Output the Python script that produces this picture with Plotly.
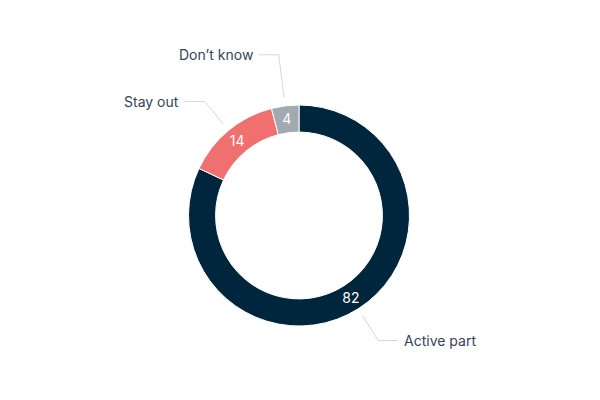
import math
import plotly.graph_objects as go

labels = ["Active part", "Stay out", "Don’t know"]
values = [82, 14, 4]
colors = ["#00263e", "#f07070", "#a0aab0"]

W, H = 600, 400
ML, MR, MT, MB = 0, 2, 105, 74
PW, PH = W - ML - MR, H - MT - MB
CX, CY = ML + PW / 2, MT + PH / 2
R = min(PW, PH) / 2

label_radius = [148, 148, 162]
line_start_gap = 8
hseg = 20
text_gap = 4


def to_paper(px, py):
    return (px - ML) / PW, (H - MB - py) / PH


fig = go.Figure(go.Pie(
    labels=labels, values=values, hole=0.755, sort=False, direction="clockwise",
    rotation=0, marker=dict(colors=colors, line=dict(color="white", width=1)),
    textinfo="value", textposition="inside", insidetextorientation="horizontal",
    textfont=dict(family="Inter", size=14, color="white"),
    showlegend=False, hoverinfo="label+value",
    domain=dict(x=[0, 1], y=[0, 1]),
))

total = sum(values)
cum = 0
shapes, annots = [], []
for lab, v, lr in zip(labels, values, label_radius):
    mid = (cum + v / 2) / total * 2 * math.pi
    cum += v
    sx, sy = math.sin(mid), -math.cos(mid)
    p0 = (CX + (R + line_start_gap) * sx, CY + (R + line_start_gap) * sy)
    p1 = (CX + lr * sx, CY + lr * sy)
    side = 1 if sx >= 0 else -1
    p2 = (p1[0] + side * hseg, p1[1])
    pts = [to_paper(*p) for p in (p0, p1, p2)]
    path = "M {} {} L {} {} L {} {}".format(pts[0][0], pts[0][1], pts[1][0], pts[1][1], pts[2][0], pts[2][1])
    shapes.append(dict(type="path", xref="paper", yref="paper", path=path,
                       line=dict(color="#d3d8dd", width=1)))
    tx, ty = to_paper(p2[0] + side * text_gap, p2[1])
    annots.append(dict(x=tx, y=ty, xref="paper", yref="paper", text=lab, showarrow=False,
                       xanchor="left" if side > 0 else "right", yanchor="middle",
                       font=dict(family="Inter", size=14, color="#36435a")))

fig.update_layout(
    width=W, height=H, margin=dict(l=ML, r=MR, t=MT, b=MB),
    paper_bgcolor="white", plot_bgcolor="white",
    shapes=shapes, annotations=annots,
)
fig.write_html("out.html", config={"displayModeBar": False},
               post_script="document.body.style.margin='0';")
